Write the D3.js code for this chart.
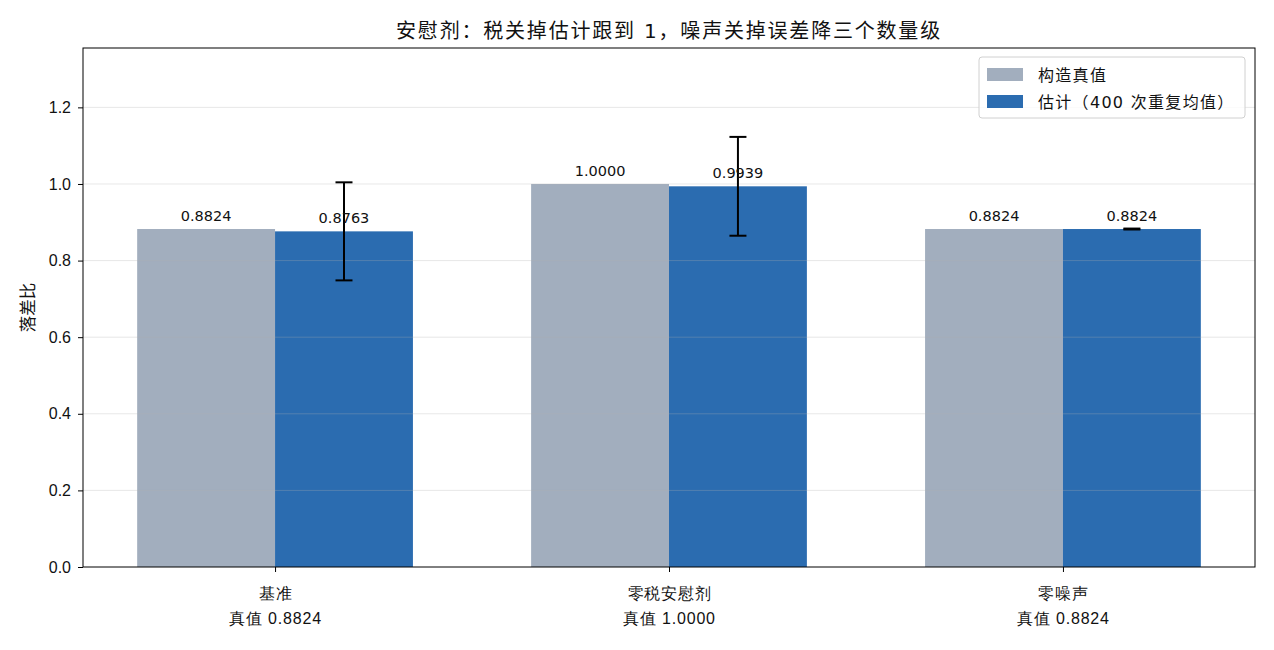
<!DOCTYPE html>
<html lang="zh">
<head>
<meta charset="UTF-8">
<title>安慰剂</title>
<script src="https://d3js.org/d3.v7.min.js"></script>
<style>
  body, html { margin: 0; padding: 0; background: #fff; }
  svg { display: block; font-family: "DejaVu Sans", "Noto Sans CJK SC", sans-serif; }
  .tick text { font-size: 16px; fill: #111; }
</style>
</head>
<body>
<svg id="chart" width="1274" height="650"></svg>
<script>
// data
const categories = ["基准", "零税安慰剂", "零噪声"];
const trueLabels = ["真值 0.8824", "真值 1.0000", "真值 0.8824"];
const trueValues = [0.8824, 1.0000, 0.8824];
const estValues = [0.8763, 0.9939, 0.8824];
const estErr = [0.128, 0.129, 0.0012];
const seriesNames = ["构造真值", "估计（400 次重复均值）"];
const yTicks = [0, 0.2, 0.4, 0.6, 0.8, 1.0, 1.2];

const svg = d3.select("#chart");
const m = { left: 83, right: 1255, top: 48, bottom: 567 };
const grey = "#a2aebe", blue = "#2b6cb0";
const barW = 0.35;

const x = d3.scaleLinear().domain([-0.4875, 2.4875]).range([m.left, m.right]);
const y = d3.scaleLinear().domain([0, 1.355]).range([m.bottom, m.top]);
const bw = x(barW) - x(0);

// bars
const g = svg.append("g");
g.selectAll(".bt").data(trueValues).enter().append("rect")
  .attr("x", (d, i) => x(i - barW))
  .attr("y", d => y(d))
  .attr("width", bw)
  .attr("height", d => y(0) - y(d))
  .attr("fill", grey);
g.selectAll(".be").data(estValues).enter().append("rect")
  .attr("x", (d, i) => x(i))
  .attr("y", d => y(d))
  .attr("width", bw)
  .attr("height", d => y(0) - y(d))
  .attr("fill", blue);

// grid (drawn over bars, faint)
svg.append("g").selectAll("line").data(yTicks.slice(1)).enter().append("line")
  .attr("x1", m.left).attr("x2", m.right)
  .attr("y1", d => y(d)).attr("y2", d => y(d))
  .attr("stroke", "#b0b0b0").attr("stroke-opacity", 0.3).attr("stroke-width", 1);

// error bars
const eb = svg.append("g").attr("stroke", "#000").attr("stroke-width", 2);
estValues.forEach((v, i) => {
  const cx = x(i + barW / 2);
  eb.append("line").attr("x1", cx).attr("x2", cx).attr("y1", y(v - estErr[i])).attr("y2", y(v + estErr[i]));
  [v - estErr[i], v + estErr[i]].forEach(e => {
    eb.append("line").attr("x1", cx - 8.5).attr("x2", cx + 8.5).attr("y1", y(e)).attr("y2", y(e));
  });
});

// value labels
const lab = svg.append("g").attr("font-size", 14.5).attr("text-anchor", "middle").attr("fill", "#111");
trueValues.forEach((v, i) => {
  lab.append("text").attr("x", x(i - barW / 2)).attr("y", y(v) - 8).text(v.toFixed(4));
});
estValues.forEach((v, i) => {
  lab.append("text").attr("x", x(i + barW / 2)).attr("y", y(v) - 8).text(v.toFixed(4));
});

// axes
const yAxis = svg.append("g").attr("transform", `translate(${m.left},0)`)
  .call(d3.axisLeft(y).tickValues(yTicks).tickFormat(d3.format(".1f")).tickSize(5).tickPadding(7));
yAxis.select(".domain").remove();

const xAxis = svg.append("g").attr("transform", `translate(0,${m.bottom})`)
  .call(d3.axisBottom(x).tickValues([0, 1, 2]).tickSize(5).tickFormat(""));
xAxis.select(".domain").remove();
xAxis.selectAll(".tick").each(function (d) {
  const t = d3.select(this);
  t.append("text").attr("y", 32).attr("text-anchor", "middle").attr("fill", "#111")
    .attr("font-size", 16.5).attr("letter-spacing", 0.8).text(categories[d]);
  t.append("text").attr("y", 57).attr("text-anchor", "middle").attr("fill", "#111")
    .attr("font-size", 16.5).attr("letter-spacing", 0.8).text(trueLabels[d]);
});

// frame
svg.append("rect").attr("x", m.left).attr("y", m.top)
  .attr("width", m.right - m.left).attr("height", m.bottom - m.top)
  .attr("fill", "none").attr("stroke", "#000").attr("stroke-width", 1);

// title & y label
svg.append("text").attr("x", (m.left + m.right) / 2).attr("y", 38)
  .attr("text-anchor", "middle").attr("font-size", 20).attr("letter-spacing", 1.8).attr("fill", "#111")
  .text("安慰剂：税关掉估计跟到 1，噪声关掉误差降三个数量级");
svg.append("text").attr("transform", `translate(34,${(m.top + m.bottom) / 2}) rotate(-90)`)
  .attr("text-anchor", "middle").attr("font-size", 16.5).attr("fill", "#111").text("落差比");

// legend
const lg = svg.append("g").attr("transform", "translate(979,57)");
lg.append("rect").attr("width", 266).attr("height", 61).attr("rx", 3)
  .attr("fill", "#fff").attr("fill-opacity", 0.8).attr("stroke", "#d0d0d0");
[grey, blue].forEach((c, i) => {
  lg.append("rect").attr("x", 8).attr("y", 11 + i * 27).attr("width", 36).attr("height", 13).attr("fill", c);
  lg.append("text").attr("x", 59).attr("y", 24 + i * 27).attr("font-size", 16).attr("letter-spacing", 1.3)
    .attr("fill", "#111").text(seriesNames[i]);
});
</script>
</body>
</html>
